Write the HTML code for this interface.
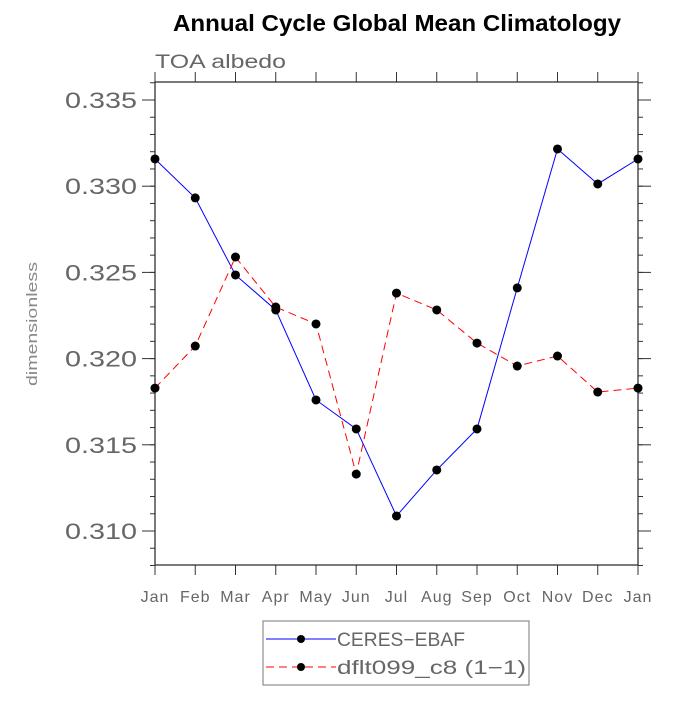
<!DOCTYPE html>
<html><head><meta charset="utf-8"><style>
body{margin:0;background:#fff}
svg text{font-family:"Liberation Sans",sans-serif}
</style></head><body>
<svg id="c" width="700" height="700" xmlns="http://www.w3.org/2000/svg">
<text x="397" y="31" text-anchor="middle" font-size="23" font-weight="bold" fill="#000" textLength="448" lengthAdjust="spacingAndGlyphs">Annual Cycle Global Mean Climatology</text>
<text x="155" y="68" font-size="19" fill="#666" textLength="131" lengthAdjust="spacingAndGlyphs">TOA  albedo</text>
<text transform="translate(37,324) rotate(-90)" text-anchor="middle" font-size="15" fill="#888" textLength="124" lengthAdjust="spacingAndGlyphs">dimensionless</text>
<rect x="155" y="82" width="483" height="483" fill="none" stroke="#333" stroke-width="1.3"/>
<g id="axes"></g>
<g id="series"></g>
<g>
<rect x="263" y="621" width="266" height="64" fill="#fff" stroke="#777" stroke-width="1"/>
<line x1="266" y1="639" x2="336" y2="639" stroke="#0000ff" stroke-width="1"/>
<circle cx="301" cy="639" r="4" fill="#000"/>
<text x="337" y="646" font-size="19" fill="#666" textLength="128" lengthAdjust="spacingAndGlyphs">CERES−EBAF</text>
<line x1="266" y1="667" x2="336" y2="667" stroke="#ff0000" stroke-width="1" stroke-dasharray="8,5"/>
<circle cx="301" cy="667" r="4" fill="#000"/>
<text x="337" y="674" font-size="19" fill="#666" textLength="189" lengthAdjust="spacingAndGlyphs">dflt099_c8 (1−1)</text>
</g>
</svg>
<script>
const months=["Jan","Feb","Mar","Apr","May","Jun","Jul","Aug","Sep","Oct","Nov","Dec","Jan"];
const ceres=[0.33158,0.32932,0.32485,0.32282,0.3176,0.31592,0.31087,0.31354,0.31592,0.3241,0.33216,0.33013,0.33158];
const model=[0.31829,0.32073,0.32589,0.32299,0.32201,0.3133,0.3238,0.32282,0.3209,0.31957,0.32015,0.31806,0.31829];
const yTicks=["0.310","0.315","0.320","0.325","0.330","0.335"];
const NS="http://www.w3.org/2000/svg";
const L=155,R=638,T=82,B=565;
const xS=i=>L+(R-L)*i/(months.length-1);
const yS=v=>531-(v-0.310)/0.025*431;
function mk(tag,at,parent){const e=document.createElementNS(NS,tag);for(const k in at)e.setAttribute(k,at[k]);parent.appendChild(e);return e;}
const ax=document.getElementById('axes');
months.forEach((m,i)=>{
 const x=xS(i);
 mk('line',{x1:x,y1:B,x2:x,y2:B+10,stroke:'#333'},ax);
 mk('line',{x1:x,y1:T,x2:x,y2:T-10,stroke:'#333'},ax);
 const t=mk('text',{x:x,y:B+37,'text-anchor':'middle','font-size':'16',fill:'#666','letter-spacing':'1'},ax);
 t.textContent=m;
 
 
});
for(let v=0.308;v<=0.3365;v+=0.001){
 const y=yS(v);if(y<T-0.5||y>B+0.5)continue;
 mk('line',{x1:L,y1:y,x2:L-5,y2:y,stroke:'#333'},ax);
 mk('line',{x1:R,y1:y,x2:R+5,y2:y,stroke:'#333'},ax);
}
yTicks.forEach(s=>{
 const y=yS(parseFloat(s));
 mk('line',{x1:L,y1:y,x2:L-13,y2:y,stroke:'#333'},ax);
 mk('line',{x1:R,y1:y,x2:R+13,y2:y,stroke:'#333'},ax);
 const t=mk('text',{x:137,y:y+8,'text-anchor':'end','font-size':'22',fill:'#666',textLength:72,lengthAdjust:'spacingAndGlyphs'},ax);
 t.textContent=s;
 
 
});
const sg=document.getElementById('series');
function draw(vals,color,dash,name){
 const pts=vals.map((v,i)=>xS(i)+','+yS(v)).join(' ');
 const pl=mk('polyline',{points:pts,fill:'none',stroke:color,'stroke-width':1,'stroke-dasharray':dash},sg);
 
 
 vals.forEach((v,i)=>{
  const c=mk('circle',{cx:xS(i),cy:yS(v),r:4.5,fill:'#000'},sg);
  
  
 });
}
draw(ceres,'#0000ff','none','ceres');
draw(model,'#ff0000','8,5','model');
</script>
</body></html>
